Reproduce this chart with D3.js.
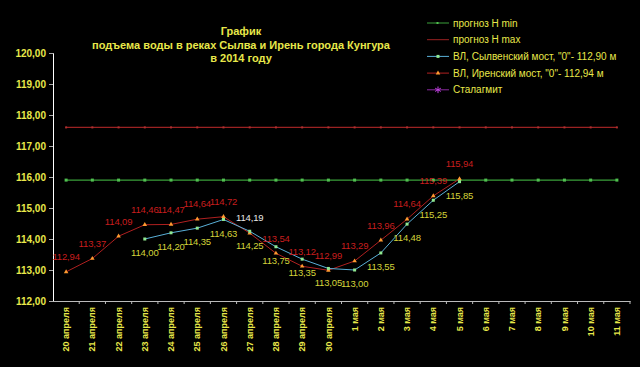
<!DOCTYPE html>
<html><head><meta charset="utf-8">
<script src="https://cdn.jsdelivr.net/npm/d3@7"></script>
<style>html,body{margin:0;padding:0;background:#000;}svg{display:block;}</style>
</head><body>
<script>
const categories = ["20 апреля","21 апреля","22 апреля","23 апреля","24 апреля","25 апреля","26 апреля","27 апреля","28 апреля","29 апреля","30 апреля","1 мая","2 мая","3 мая","4 мая","5 мая","6 мая","7 мая","8 мая","9 мая","10 мая","11 мая"];
const hMin = [115.9,115.9,115.9,115.9,115.9,115.9,115.9,115.9,115.9,115.9,115.9,115.9,115.9,115.9,115.9,115.9,115.9,115.9,115.9,115.9,115.9,115.9];
const hMax = [117.6,117.6,117.6,117.6,117.6,117.6,117.6,117.6,117.6,117.6,117.6,117.6,117.6,117.6,117.6,117.6,117.6,117.6,117.6,117.6,117.6,117.6];
const sylva = [null,null,null,114.00,114.20,114.35,114.63,114.25,113.75,113.35,113.05,113.00,113.55,114.48,115.25,115.85,null,null,null,null,null,null];
const iren = [112.94,113.37,114.09,114.46,114.47,114.64,114.72,114.19,113.54,113.12,112.99,113.29,113.96,114.64,115.39,115.94,null,null,null,null,null,null];
const yTicks = [112,113,114,115,116,117,118,119,120];
const titleLines = ["График","подъема воды в реках Сылва и Ирень города Кунгура","в 2014 году"];
const legendLabels = ["прогноз H min","прогноз H max","ВЛ, Сылвенский мост, \"0\"- 112,90 м","ВЛ, Иренский мост, \"0\"- 112,94 м","Сталагмит"];

const W = 640, H = 367;
const yellow = "#e8e84a";
const svg = d3.select("body").append("svg").attr("width", W).attr("height", H).style("background", "#000");

const x = d3.scaleBand().domain(categories).range([53, 630]);
const y = d3.scaleLinear().domain([112, 120]).range([301, 53]);
const cx = d => x(d) + x.bandwidth() / 2;
const fmt = v => v.toFixed(2).replace(".", ",");
const font = "Liberation Sans, Arial, sans-serif";

// Title
svg.append("g").selectAll("text").data(titleLines).join("text")
  .attr("x", 241).attr("y", (d, i) => 35 + i * 13.5)
  .attr("text-anchor", "middle")
  .attr("font-family", font)
  .attr("font-weight", "bold").attr("font-size", 11)
  .attr("fill", yellow).text(d => d);

// Y axis
const yAxis = d3.axisLeft(y).tickValues(yTicks).tickSize(4).tickFormat(fmt);
const gy = svg.append("g").attr("transform", "translate(53,0)").call(yAxis);
gy.select(".domain").attr("stroke", "#fff");
gy.selectAll(".tick line").attr("stroke", "#aaa");
gy.selectAll(".tick text").attr("fill", yellow).attr("font-weight", "bold")
  .attr("font-size", 10).attr("font-family", font).attr("x", -7);

// X axis
const gx = svg.append("g").attr("transform", "translate(0,301)")
  .call(d3.axisBottom(x).tickSize(0).tickSizeOuter(0));
gx.select(".domain").attr("stroke", "#bbb");
gx.selectAll(".tick text")
  .attr("fill", yellow).attr("font-size", 9).attr("font-weight", "bold")
  .attr("font-family", font)
  .attr("transform", "rotate(-90)").attr("text-anchor", "end")
  .attr("x", -6).attr("y", 0).attr("dy", "0.35em");
// boundary ticks
svg.append("g").selectAll("line").data(categories.slice(1).concat(["__end"])).join("line")
  .attr("x1", d => d === "__end" ? 630 : x(d)).attr("x2", d => d === "__end" ? 630 : x(d))
  .attr("y1", 301).attr("y2", 304).attr("stroke", "#bbb");

function series(data, color, width) {
  const line = d3.line().defined(d => d.v != null).x(d => cx(d.c)).y(d => y(d.v));
  const pts = categories.map((c, i) => ({c, v: data[i]}));
  svg.append("path").datum(pts).attr("d", line).attr("fill", "none").attr("stroke", color).attr("stroke-width", width || 1);
  return pts.filter(d => d.v != null);
}

// H min
const pMin = series(hMin, "#3aa03a", 1.2);
svg.append("g").selectAll("rect").data(pMin).join("rect")
  .attr("x", d => cx(d.c) - 1.5).attr("y", d => y(d.v) - 1.5).attr("width", 3).attr("height", 3).attr("fill", "#50c050");
// H max
const pMax = series(hMax, "#9a2222", 1.2);
svg.append("g").selectAll("rect").data(pMax).join("rect")
  .attr("x", d => cx(d.c) - 1).attr("y", d => y(d.v) - 1).attr("width", 2).attr("height", 2).attr("fill", "#b03030");

// Iren (red)
const pIren = series(iren, "#b02020", 1);
// Sylva (blue)
const pSyl = series(sylva, "#5ab0d8", 1);

svg.append("g").selectAll("path").data(pIren).join("path")
  .attr("d", d3.symbol(d3.symbolTriangle, 9))
  .attr("transform", d => `translate(${cx(d.c)},${y(d.v)})`).attr("fill", "#ff9a30");
svg.append("g").selectAll("rect").data(pSyl).join("rect")
  .attr("x", d => cx(d.c) - 1.5).attr("y", d => y(d.v) - 1.5).attr("width", 3).attr("height", 3).attr("fill", "#90e890");

svg.append("g").selectAll("text").data(pIren).join("text")
  .attr("x", d => cx(d.c)).attr("y", d => y(d.v) - 15).attr("dy", "0.35em")
  .attr("text-anchor", "middle").attr("font-size", 9.5).attr("letter-spacing", -0.15).attr("font-family", font)
  .attr("fill", d => d.c === "27 апреля" ? "#e8e8e8" : "#c81e1e").text(d => fmt(d.v));
svg.append("g").selectAll("text").data(pSyl).join("text")
  .attr("x", d => cx(d.c)).attr("y", d => y(d.v) + 14).attr("dy", "0.35em")
  .attr("text-anchor", "middle").attr("font-size", 9.5).attr("letter-spacing", -0.15).attr("font-family", font)
  .attr("fill", "#d4d43a").text(d => fmt(d.v));

// Legend
const lg = svg.append("g");
const legColors = ["#3aa03a", "#9a2222", "#5ab0d8", "#b02020", "#8a2aa0"];
legendLabels.forEach((t, i) => {
  const yy = 23 + i * 16.7;
  lg.append("line").attr("x1", 427).attr("x2", 449).attr("y1", yy).attr("y2", yy).attr("stroke", legColors[i]);
  if (i === 0) lg.append("rect").attr("x", 436.5).attr("y", yy - 1).attr("width", 2).attr("height", 2).attr("fill", "#50c050");
  if (i === 2) lg.append("rect").attr("x", 436.5).attr("y", yy - 1.5).attr("width", 3).attr("height", 3).attr("fill", "#90e890");
  if (i === 3) lg.append("path").attr("d", d3.symbol(d3.symbolTriangle, 9)).attr("transform", `translate(438,${yy})`).attr("fill", "#ff9a30");
  if (i === 4) lg.append("path").attr("d", d3.symbol(d3.symbolAsterisk, 30)).attr("transform", `translate(438,${yy})`).attr("stroke", "#c040e0").attr("fill", "none");
  lg.append("text").attr("x", 453).attr("y", yy).attr("dy", "0.35em")
    .attr("font-size", 10).attr("font-family", font).attr("fill", yellow).text(t);
});
</script>
</body></html>
